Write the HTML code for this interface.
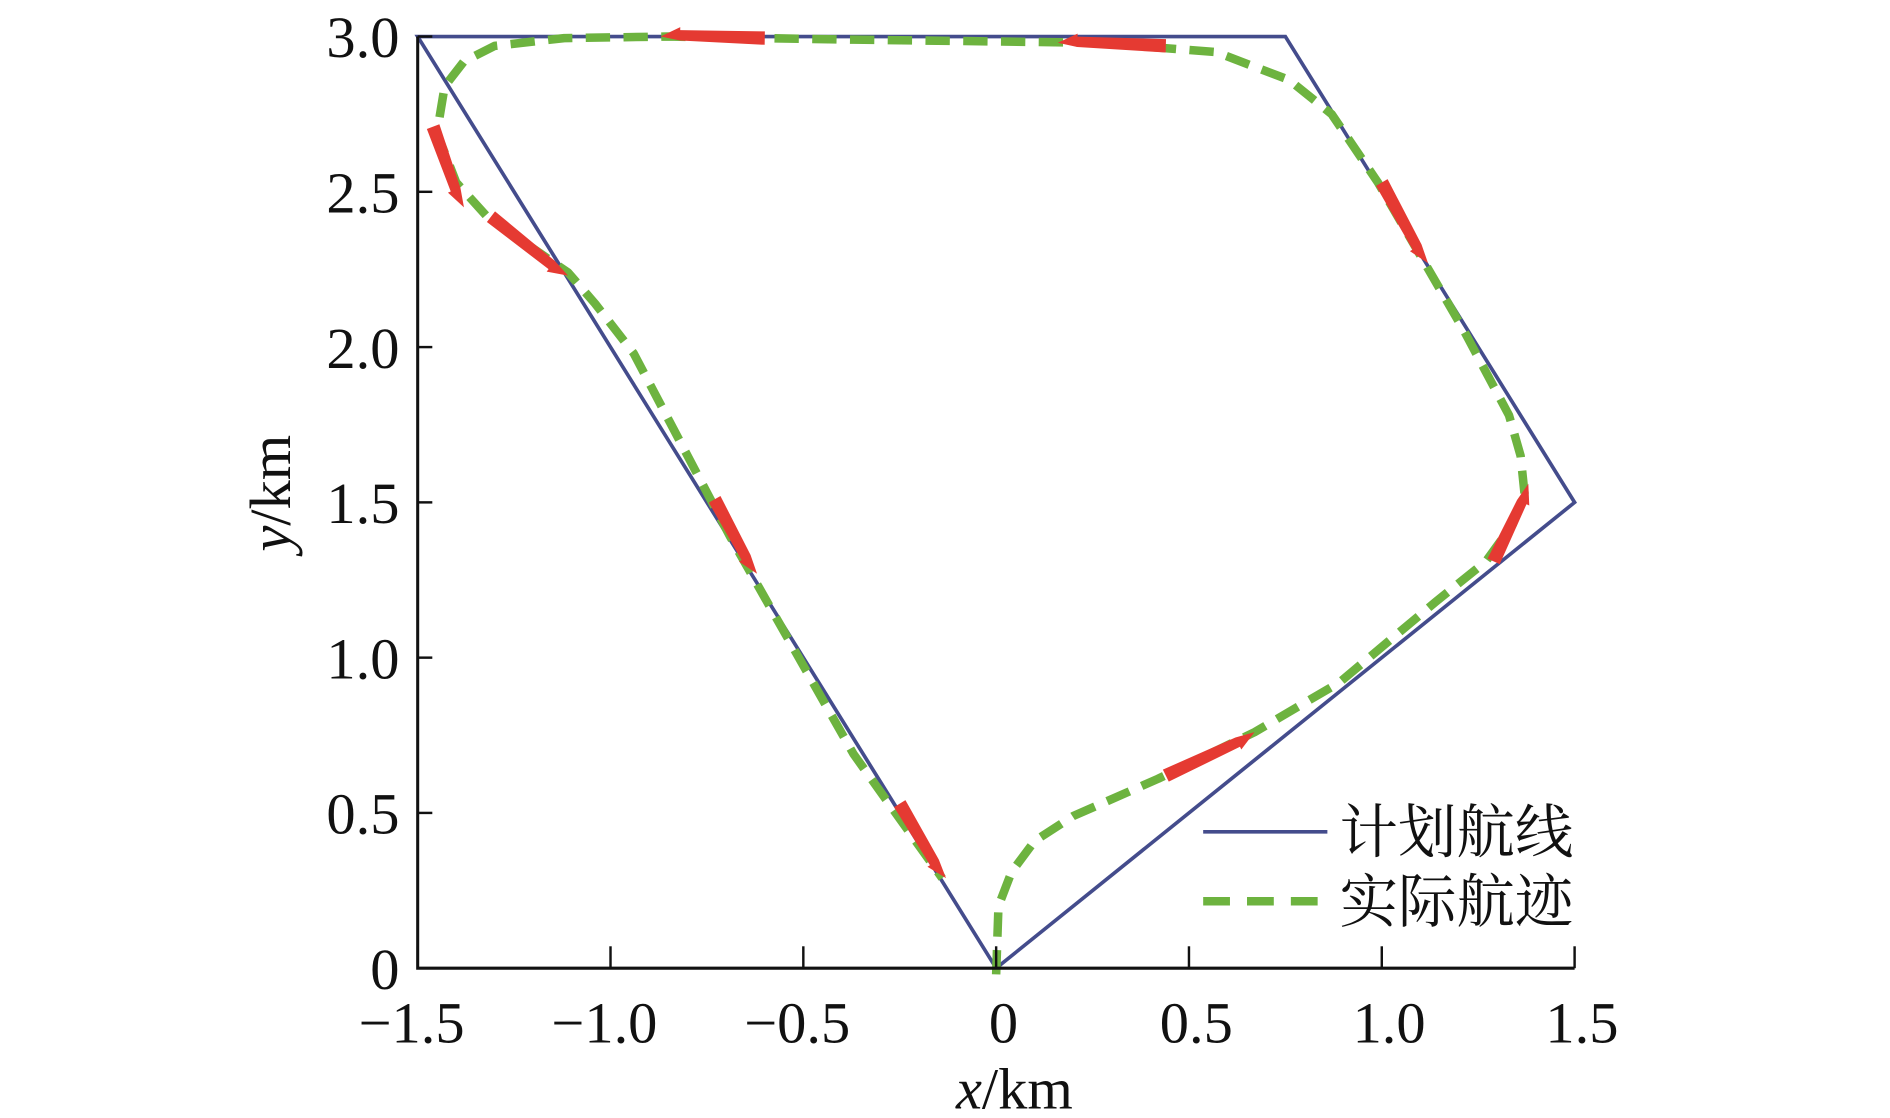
<!DOCTYPE html>
<html><head><meta charset="utf-8"><style>
html,body{margin:0;padding:0;background:#fff;width:1890px;height:1118px;overflow:hidden}
svg{display:block}
text{font-family:"Liberation Serif","Noto Serif CJK SC",serif;fill:#111}
</style></head><body>
<svg id="chart" width="1890" height="1118" viewBox="0 0 1552 918" preserveAspectRatio="none" xmlns="http://www.w3.org/2000/svg">
<g id="marks"></g>
<g id="axes"></g>
<g>
<line x1="988" y1="683" x2="1090" y2="683" stroke="#444c8c" stroke-width="3"/>
<text x="1100" y="700" font-size="48" font-family="Noto Serif CJK SC, serif">计划航线</text>
<line x1="988" y1="740" x2="1090" y2="740" stroke="#6db33f" stroke-width="7" stroke-dasharray="22,14"/>
<text x="1100" y="757" font-size="48" font-family="Noto Serif CJK SC, serif">实际航迹</text>
</g>
<text x="833" y="910" font-size="48" text-anchor="middle"><tspan font-style="italic">x</tspan>/km</text>
<text transform="translate(238,405) rotate(-90)" font-size="48" text-anchor="middle"><tspan font-style="italic">y</tspan>/km</text>
</svg>
<script>
const planX=[0,1.5,0.75,-1.5,0];
const planY=[0,1.5,3,3,0];
const trackX=[0,0.006,0.04,0.1,0.2,0.42,0.67,0.89,1.14,1.27,1.34,1.37,1.36,1.33,1.21,0.99,0.87,0.76,0.57,0.26,-0.37,-0.85,-1.12,-1.30,-1.38,-1.43,-1.45,-1.40,-1.32,-1.11,-1.04,-0.94,-0.69,-0.37,-0.14];
const trackY=[-0.02,0.2,0.31,0.41,0.49,0.61,0.76,0.92,1.18,1.31,1.43,1.53,1.65,1.78,2.06,2.53,2.75,2.86,2.95,2.98,2.99,3.0,2.995,2.97,2.92,2.84,2.69,2.53,2.42,2.24,2.14,1.98,1.39,0.69,0.29];
const arrowX1=[-0.60,0.44,-1.46,-1.31,-0.73,-0.25,0.44,1.0,1.29];
const arrowY1=[2.995,2.97,2.71,2.42,1.51,0.53,0.62,2.53,1.31];
const arrowX2=[-0.87,0.16,-1.38,-1.11,-0.62,-0.13,0.67,1.12,1.38];
const arrowY2=[3.0,2.98,2.45,2.23,1.27,0.29,0.76,2.27,1.56];
const xTicks=[-1.5,-1.0,-0.5,0,0.5,1.0,1.5];
const xTickLabels=["\u22121.5","\u22121.0","\u22120.5","0","0.5","1.0","1.5"];
const yTicks=[0,0.5,1.0,1.5,2.0,2.5,3.0];
const yTickLabels=["0","0.5","1.0","1.5","2.0","2.5","3.0"];
const sx=v=>818+316.67*v, sy=v=>795-255*v;
const NS="http://www.w3.org/2000/svg";
const marks=document.getElementById('marks'), axes=document.getElementById('axes');
function mk(t,a,p){const e=document.createElementNS(NS,t);for(const k in a)e.setAttribute(k,a[k]);p.appendChild(e);return e;}
let pl=mk('polyline',{points:planX.map((x,i)=>sx(x)+','+sy(planY[i])).join(' '),fill:'none',stroke:'#444c8c','stroke-width':3},marks);


let tr=mk('polyline',{points:trackX.map((x,i)=>sx(x)+','+sy(trackY[i])).join(' '),fill:'none',stroke:'#6db33f','stroke-width':7,'stroke-dasharray':'20,11','stroke-linejoin':'round'},marks);


arrowX1.forEach((x1,i)=>{
 const a=sx(x1),b=sy(arrowY1[i]),c=sx(arrowX2[i]),d=sy(arrowY2[i]);
 const L=Math.hypot(c-a,d-b),ux=(c-a)/L,uy=(d-b)/L,nx=-uy,ny=ux,h=16,w=5.5;
 const bx=c-ux*h,by=d-uy*h;
 const pts=[[a+nx*w,b+ny*w],[bx+nx*w,by+ny*w],[bx+nx*8,by+ny*8],[c,d],[bx-nx*3,by-ny*3],[a-nx*w,b-ny*w]];
 const g=mk('polygon',{points:pts.map(p=>p.join(',')).join(' '),fill:'#e53a32'},marks);
 
 
});
let ax=mk('path',{d:`M${sx(-1.5)},${sy(3)} V${sy(0)} H${sx(1.5)}`,fill:'none',stroke:'#111','stroke-width':2.5},axes);


xTicks.forEach((v,i)=>{
 const t=mk('line',{x1:sx(v),x2:sx(v),y1:sy(0),y2:sy(0)-18,stroke:'#111','stroke-width':2},axes);
 
 
 const l=mk('text',{x:sx(v)+(v<0?-5:6),y:856,'font-size':48,'text-anchor':'middle'},axes);l.textContent=xTickLabels[i];
 
 
});
yTicks.forEach((v,i)=>{
 const t=mk('line',{x1:sx(-1.5),x2:sx(-1.5)+12,y1:sy(v),y2:sy(v),stroke:'#111','stroke-width':2},axes);
 
 
 const l=mk('text',{x:328,y:sy(v)+17,'font-size':48,'text-anchor':'end'},axes);l.textContent=yTickLabels[i];
 
 
});
</script>
</body></html>
